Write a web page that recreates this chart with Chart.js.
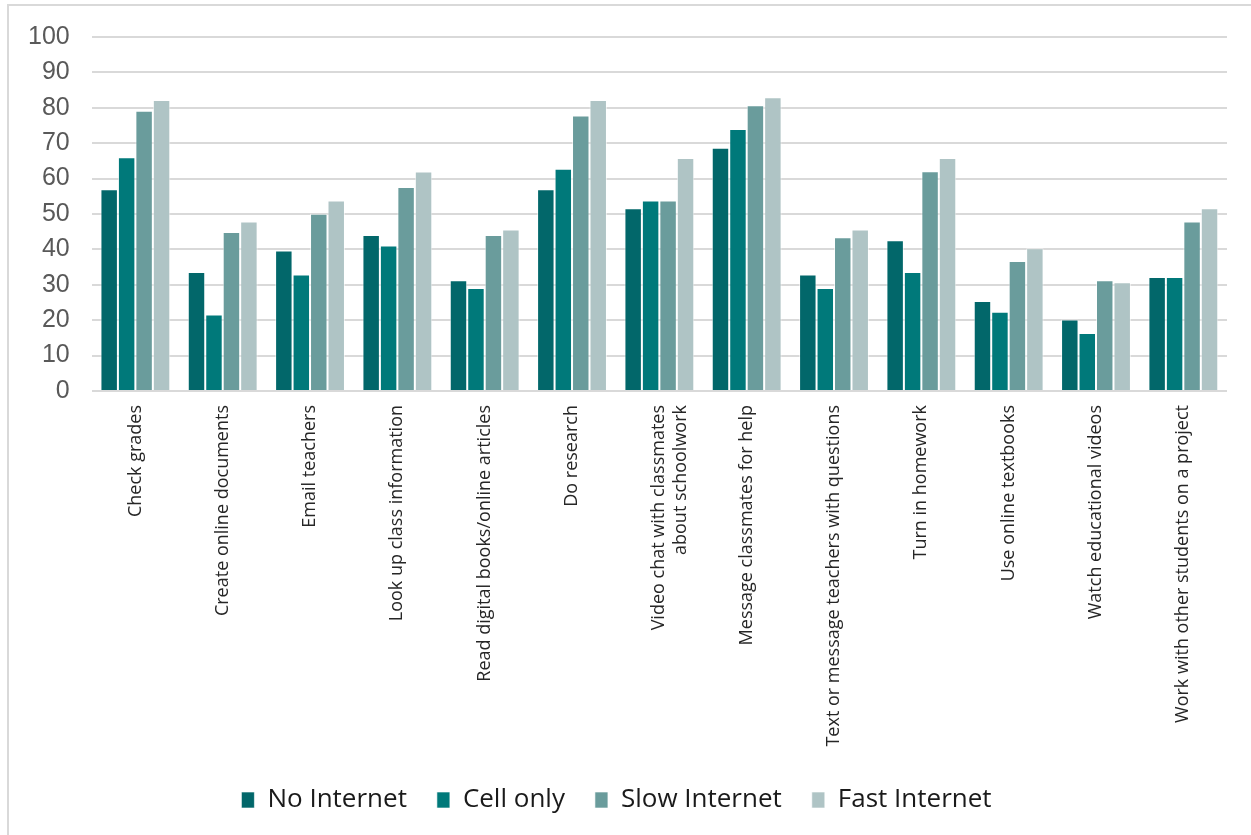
<!DOCTYPE html>
<html lang="en">
<head>
    <meta charset="UTF-8">
    <title>Internet access and schoolwork activities</title>
    <script src="https://cdn.jsdelivr.net/npm/chart.js"></script>
    <style>
        html, body { margin: 0; padding: 0; background: #fff; }
        .frame {
            position: absolute; left: 7px; top: 4px; width: 1260px; height: 840px;
            border-top: 2px solid #d9d9d9; border-left: 2px solid #d9d9d9;
        }
        .holder { position: absolute; left: 0; top: 0; width: 1251px; height: 835px; }
    </style>
</head>
<body>
    <div class="frame"></div>
    <div class="holder"><canvas id="grafico"></canvas></div>
    <script>
        // categories (x axis)
        var categories = [
            'Check grades',
            'Create online documents',
            'Email teachers',
            'Look up class information',
            'Read digital books/online articles',
            'Do research',
            ['Video chat with classmates', 'about schoolwork'],
            'Message classmates for help',
            'Text or message teachers with questions',
            'Turn in homework',
            'Use online textbooks',
            'Watch educational videos',
            'Work with other students on a project'
        ];

        // series values
        var noInternet   = [57, 33.6, 39.7, 44.1, 31.3, 57, 51.6, 68.7, 32.9, 42.6, 25.4, 20.2, 32.2];
        var cellOnly     = [66, 21.6, 32.9, 41.1, 29.1, 62.8, 53.8, 74, 29.1, 33.6, 22.4, 16.4, 32.2];
        var slowInternet = [79.2, 44.9, 50.1, 57.6, 44.1, 77.8, 53.8, 80.7, 43.4, 62.1, 36.7, 31.3, 47.9];
        var fastInternet = [82.2, 47.9, 53.8, 62, 45.6, 82.2, 65.8, 83, 45.6, 65.8, 40.3, 30.7, 51.6];

        var seriesNames = ['No Internet', 'Cell only', 'Slow Internet', 'Fast Internet'];
        var seriesColors = ['#02676a', '#00797a', '#6a9c9c', '#afc4c5'];

        var yTicks = [0, 10, 20, 30, 40, 50, 60, 70, 80, 90, 100];

        var valores = [noInternet, cellOnly, slowInternet, fastInternet];
        var datasets = [];
        for (var i = 0; i < valores.length; i++) {
            datasets.push({
                label: seriesNames[i],
                data: valores[i],
                backgroundColor: seriesColors[i],
                borderColor: 'rgba(255,255,255,0.6)',
                borderWidth: 1,
                borderSkipped: 'bottom',
                barPercentage: 1,
                categoryPercentage: 0.8
            });
        }

        var ctx = document.getElementById('grafico').getContext('2d');
        var grafico = new Chart(ctx, {
            type: 'bar',
            data: { labels: categories, datasets: datasets },
            options: {
                responsive: true,
                maintainAspectRatio: false,
                animation: false,
                layout: { padding: { left: 6, top: 20, right: 24, bottom: 12 } },
                plugins: {
                    legend: {
                        position: 'bottom',
                        labels: {
                            boxWidth: 13,
                            boxHeight: 16,
                            padding: 30,
                            color: '#1a1a1a',
                            font: { family: 'Open Sans', size: 26 }
                        }
                    },
                    tooltip: { enabled: false }
                },
                scales: {
                    x: {
                        grid: { display: false },
                        border: { display: false },
                        ticks: {
                            autoSkip: false,
                            minRotation: 90,
                            maxRotation: 90,
                            padding: 6,
                            color: '#262626',
                            font: { family: 'Open Sans', size: 18 }
                        },
                        afterFit: function (scale) { scale.height = 366; }
                    },
                    y: {
                        min: 0,
                        max: 100,
                        afterBuildTicks: function (scale) {
                            scale.ticks = yTicks.map(function (v) { return { value: v }; });
                        },
                        grid: { color: '#d9d9d9', lineWidth: 2, drawTicks: false },
                        border: { display: false },
                        ticks: {
                            padding: 22,
                            color: '#595959',
                            font: { family: 'Liberation Sans', size: 25 }
                        }
                    }
                }
            }
        });
    </script>
</body>
</html>
